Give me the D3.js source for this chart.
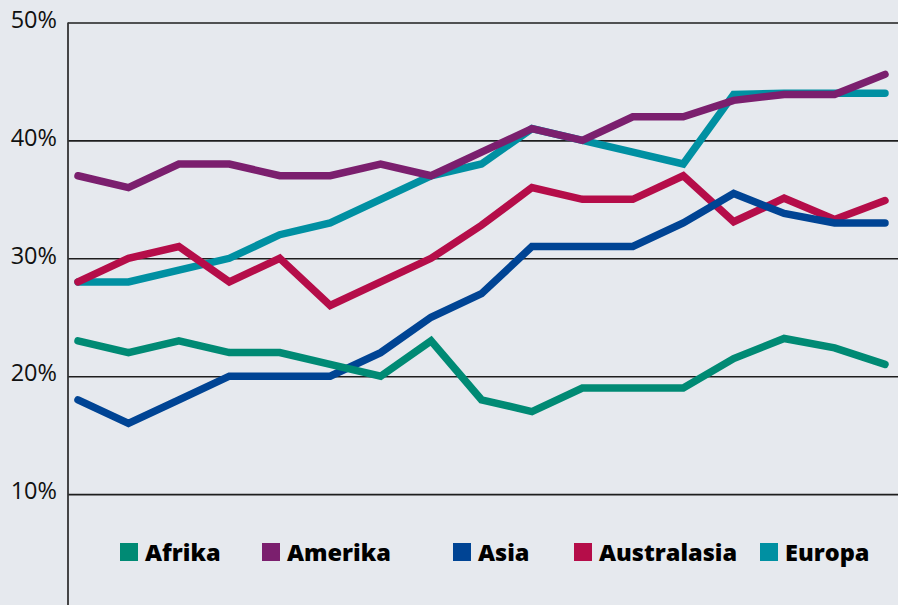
<!DOCTYPE html>
<html>
<head>
<meta charset="utf-8">
<script src="https://cdn.jsdelivr.net/npm/d3@7"></script>
<style>
  html, body { margin: 0; padding: 0; background: #e6e9ee; }
  svg { display: block; }
</style>
</head>
<body>
<script>
// periods along the x axis (no labels shown in the original)
var periods = [1, 2, 3, 4, 5, 6, 7, 8, 9, 10, 11, 12, 13, 14, 15, 16, 17];

// series values, in percent
var afrika      = [23, 22, 23, 22, 22, 21, 20, 23, 18, 17, 19, 19, 19, 21.5, 23.2, 22.4, 21];
var amerika     = [37, 36, 38, 38, 37, 37, 38, 37, 39, 41, 40, 42, 42, 43.4, 43.9, 43.9, 45.6];
var asia        = [18, 16, 18, 20, 20, 20, 22, 25, 27, 31, 31, 31, 33, 35.5, 33.8, 33, 33];
var australasia = [28, 30, 31, 28, 30, 26, 28, 30, 32.8, 36, 35, 35, 37, 33.1, 35.1, 33.3, 34.9];
var europa      = [28, 28, 29, 30, 32, 33, 35, 37, 38, 41, 40, 39, 38, 43.9, 44, 44, 44];

var seriesNames  = ["Afrika", "Amerika", "Asia", "Australasia", "Europa"];
var seriesColors = ["#008a74", "#7b1f6e", "#004494", "#b50d49", "#0090a2"];
var yTicks = [10, 20, 30, 40, 50];

function drawChart() {
    var width = 898,
        height = 605;

    var svg = d3.select("body")
        .append("svg")
        .attr("width", width)
        .attr("height", height);

    svg.append("rect")
        .attr("width", width)
        .attr("height", height)
        .attr("fill", "#e6e9ee");

    var x = d3.scalePoint()
        .domain(periods)
        .range([78, 885]);

    var y = d3.scaleLinear()
        .domain([0, 50])
        .range([612, 22.5]);

    // horizontal gridlines + tick labels
    var yAxis = d3.axisLeft(y)
        .tickValues(yTicks)
        .tickSize(-(width - 68))
        .tickFormat(function (d) { return d + "%"; });

    var gAxis = svg.append("g")
        .attr("transform", "translate(68,0)")
        .call(yAxis);

    gAxis.select(".domain").remove();
    gAxis.selectAll(".tick line")
        .attr("stroke", "#1e1e1e")
        .attr("stroke-width", 1.6);
    gAxis.selectAll(".tick text")
        .attr("x", -11)
        .attr("dy", "0.2em")
        .attr("fill", "#111")
        .style("font-family", "'Open Sans', sans-serif")
        .style("font-size", "23.5px");

    // vertical axis line
    svg.append("line")
        .attr("x1", 68).attr("x2", 68)
        .attr("y1", y(50)).attr("y2", height)
        .attr("stroke", "#333")
        .attr("stroke-width", 1.8);

    var values = [afrika, amerika, asia, australasia, europa];
    var series = seriesNames.map(function (name, i) {
        return { name: name, color: seriesColors[i], values: values[i] };
    });

    // drawing order from the reference (bottom to top)
    var drawOrder = ["Europa", "Australasia", "Asia", "Afrika", "Amerika"];

    var line = d3.line()
        .x(function (d, i) { return x(periods[i]); })
        .y(function (d) { return y(d); });

    svg.append("g")
        .selectAll("path")
        .data(drawOrder.map(function (n) { return series.find(function (s) { return s.name === n; }); }))
        .join("path")
        .attr("d", function (d) { return line(d.values); })
        .attr("fill", "none")
        .attr("stroke", function (d) { return d.color; })
        .attr("stroke-width", 7.5)
        .attr("stroke-linecap", "round")
        .attr("stroke-linejoin", "miter");

    // legend
    var legendX = [120, 262, 453, 574, 760];
    var legend = svg.append("g")
        .selectAll("g")
        .data(series)
        .join("g")
        .attr("transform", function (d, i) { return "translate(" + legendX[i] + ",543)"; });

    legend.append("rect")
        .attr("width", 18)
        .attr("height", 18)
        .attr("fill", function (d) { return d.color; });

    legend.append("text")
        .attr("x", 25)
        .attr("y", 17.5)
        .text(function (d) { return d.name; })
        .attr("fill", "#000")
        .style("font-family", "'Open Sans', sans-serif")
        .style("font-weight", "800")
        .style("font-size", "23.5px");
}

window.onload = drawChart;
</script>
</body>
</html>
